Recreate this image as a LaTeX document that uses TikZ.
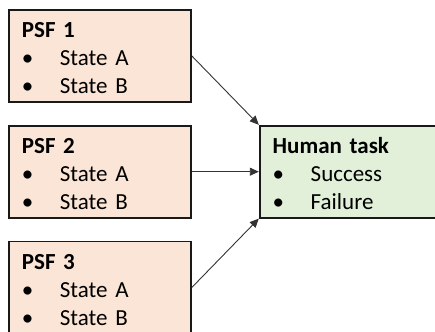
\documentclass[tikz,border=0pt]{standalone}
\usepackage{fontspec}
\setmainfont{Carlito}
\usetikzlibrary{arrows.meta,positioning}

\definecolor{psfpink}{HTML}{FBE5D6}
\definecolor{taskgreen}{HTML}{E2F0D9}
\newcommand{\bitem}[1]{\makebox[38pt][l]{•}#1}

\begin{document}
\begin{tikzpicture}[
  >={Triangle[length=9pt,width=8pt]},
  box/.style={draw=black!90, line width=1.8pt, anchor=north west, align=left,
    inner xsep=13pt, inner ysep=3pt, minimum height=92pt,
    font=\fontsize{23}{28}\selectfont},
  psf/.style={box, fill=psfpink, text width=156pt},
  task/.style={box, fill=taskgreen, text width=170pt},
  link/.style={->, line width=0.9pt, draw=black!80}
]
\useasboundingbox (0,0) rectangle (435pt,-331pt);

% --- the three shaping factors ---
\node[psf] (psf1) at (8pt,-9pt)
  {\rule{0pt}{25pt}\textbf{PSF 1}\\ \bitem{State A}\\ \bitem{State B}\rule[-5pt]{0pt}{5pt}};
\node[psf, below=22pt of psf1] (psf2)
  {\rule{0pt}{25pt}\textbf{PSF 2}\\ \bitem{State A}\\ \bitem{State B}\rule[-5pt]{0pt}{5pt}};
\node[psf, below=22pt of psf2] (psf3)
  {\rule{0pt}{25pt}\textbf{PSF 3}\\ \bitem{State A}\\ \bitem{State B}\rule[-5pt]{0pt}{5pt}};

% --- the task they act on ---
\node[task, right=67pt of psf2] (task)
  {\rule{0pt}{25pt}\textbf{Human task}\\ \bitem{Success}\\ \bitem{Failure}\rule[-5pt]{0pt}{5pt}};

% --- influences ---
\draw[link] (psf1.east) -- (task.north west);
\draw[link] (psf2.east) -- (task.west);
\draw[link] (psf3.east) -- (task.south west);

\end{tikzpicture}
\end{document}
